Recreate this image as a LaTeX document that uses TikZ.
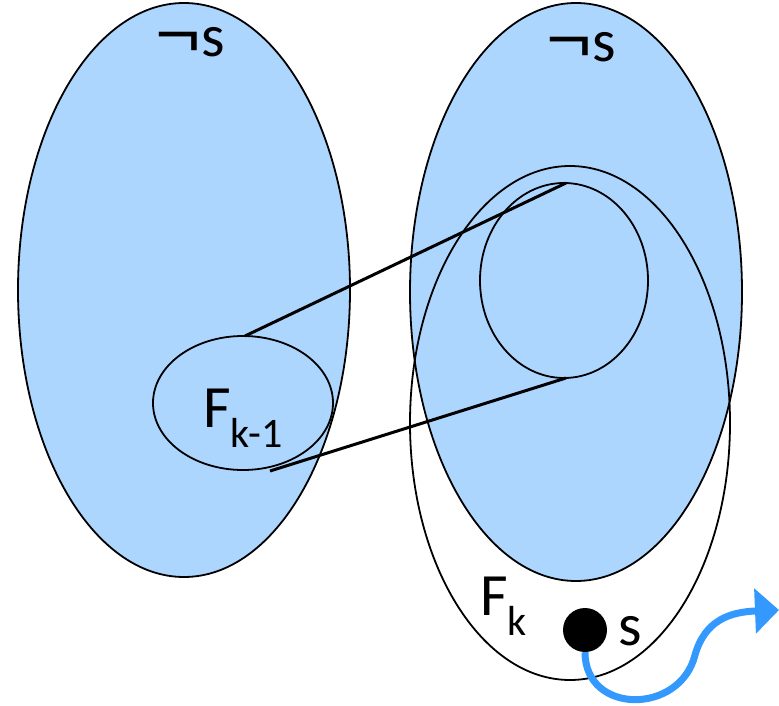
\documentclass[tikz,border=0pt]{standalone}
\usepackage{fontspec}
\setmainfont{Carlito}
\newfontfamily\negfont{Liberation Sans}
\usetikzlibrary{arrows.meta}
\definecolor{setblue}{RGB}{173,214,255}
\definecolor{arrowblue}{RGB}{51,153,255}
\tikzset{
  setfill/.style={draw=black, line width=1.8pt, fill=setblue},
  setline/.style={draw=black, line width=1.8pt},
  link/.style={draw=black, line width=3pt},
  lbl/.style={inner sep=0pt, font=\fontsize{60}{70}\selectfont},
}
\newcommand{\negs}{{\negfont\scalebox{1.3}[1.1]{¬}}\kern1pt s}
\begin{document}
\begin{tikzpicture}[x=1pt,y=-1pt]
\useasboundingbox (0,0) rectangle (779,706);
% left set
\path[setfill] (184,290) ellipse [x radius=166, y radius=287];
% right blue set
\path[setfill] (576,292) ellipse [x radius=166, y radius=289];
% F_k
\path[setline] (570,423) ellipse [x radius=160, y radius=257];
% inner image
\path[setline] (564,280.5) ellipse [x radius=84, y radius=97.5];
% F_{k-1}
\path[setline] (243,403) ellipse [x radius=90, y radius=67];
\coordinate (a1) at (245,336);
\coordinate (a2) at (566,183);
\coordinate (b1) at (270,471);
\coordinate (b2) at (566,378);
\draw[link] (a1) -- (a2);
\draw[link] (b1) -- (b2);
% labels
\node[lbl, anchor=base west] (ns1) at (155,57) {\negs};
\node[lbl, anchor=base west] (ns2) at (546,62) {\negs};
\node[lbl, anchor=base west] (fk1) at (203,427) {F\textsubscript{k-1}};
\node[lbl, anchor=base west] (fk) at (480,615) {F\textsubscript{k}};
\node[circle, fill=black, minimum size=44pt, inner sep=0pt] (dot) at (585,630) {};
\node[lbl, anchor=base west] (s) at (618,645) {s};
\coordinate (tip) at (779,610);
\draw[arrowblue, line width=7pt, -{Triangle[length=24pt,width=44pt]}]
  (dot.south) .. controls (585,715) and (680,715) .. (695,655)
  .. controls (705,620) and (730,612) .. (tip);
\end{tikzpicture}
\end{document}
